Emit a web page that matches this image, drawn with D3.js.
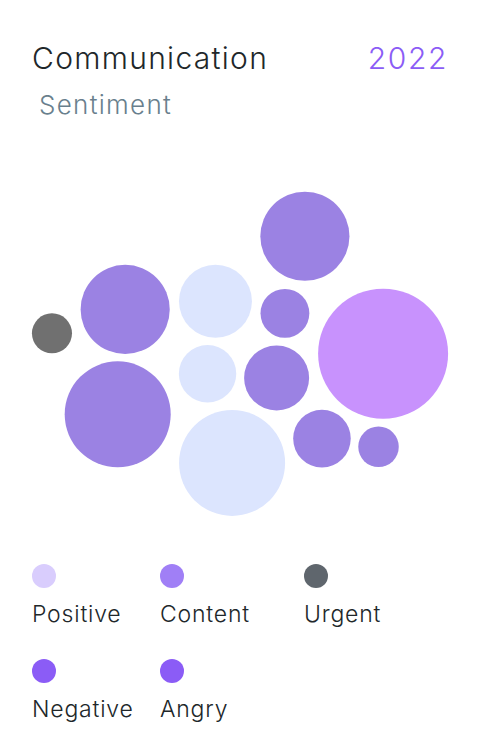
<!DOCTYPE html>
<html>
<head>
<meta charset="utf-8">
<script src="https://cdn.jsdelivr.net/npm/d3@7"></script>
<style>
  html, body { margin: 0; padding: 0; background: #ffffff; }
  svg { display: block; }
  text { font-family: Inter, "Noto Sans", sans-serif; font-weight: 300; }
</style>
</head>
<body>
<svg id="chart" width="480" height="756"></svg>
<script>
// ---- data ----
const title = "Communication";
const subtitle = "Sentiment";
const year = "2022";

const legendCategories = ["Positive", "Content", "Urgent", "Negative", "Angry"];
const legendColors = ["#d9cdfd", "#a07ff6", "#5f666d", "#8b5cf6", "#8b5cf6"];

// bubbles: category, position (0-100 layout units), value (size)
const bubbleCategory = ["Urgent", "Content", "Content", "Positive", "Positive", "Positive",
                        "Content", "Content", "Content", "Negative", "Content", "Content"];
const bubbleX = [4.8, 22.4, 20.6, 44.1, 42.2, 48.1, 65.6, 60.8, 58.8, 84.4, 69.7, 83.3];
const bubbleY = [43.7, 36.4, 68.4, 33.9, 56.0, 83.2, 14.1, 37.6, 57.3, 49.9, 75.8, 78.3];
const bubbleValue = [9.5, 47, 66.5, 31.5, 19.5, 66.5, 47, 14.1, 25, 100, 19.6, 9.7];

const bubbleFill = { Positive: "#dce5fe", Content: "#9b82e3", Urgent: "#707070", Negative: "#c892fd", Angry: "#8b5cf6" };

// ---- drawing ----
const svg = d3.select("#chart");

svg.append("text").attr("x", 32).attr("y", 69)
  .attr("font-size", 30).attr("fill", "#21272a").attr("letter-spacing", 1.3).text(title);
svg.append("text").attr("x", 448).attr("y", 69).attr("text-anchor", "end")
  .attr("font-size", 30).attr("fill", "#8b5cf6").attr("letter-spacing", 1.6).text(year);
svg.append("text").attr("x", 39).attr("y", 114)
  .attr("font-size", 26).attr("fill", "#697f8d").attr("letter-spacing", 1.3).text(subtitle);

const x = d3.scaleLinear().domain([0, 100]).range([32, 448]);
const y = d3.scaleLinear().domain([0, 100]).range([190, 518]);
const r = d3.scaleSqrt().domain([0, 100]).range([0, 65]);

const bubbles = bubbleX.map((v, i) => ({ x: v, y: bubbleY[i], value: bubbleValue[i], cat: bubbleCategory[i] }));

svg.append("g").selectAll("circle").data(bubbles).join("circle")
  .attr("cx", d => x(d.x)).attr("cy", d => y(d.y)).attr("r", d => r(d.value))
  .attr("fill", d => bubbleFill[d.cat]);

// legend
const colX = [44, 172, 316];
const rowY = [576, 671];
const legend = svg.append("g").selectAll("g").data(legendCategories).join("g")
  .attr("transform", (d, i) => `translate(${colX[i % 3]},${rowY[Math.floor(i / 3)]})`);
legend.append("circle").attr("r", 12).attr("fill", (d, i) => legendColors[i]);
legend.append("text").attr("x", -12).attr("y", 46)
  .attr("font-size", 23).attr("fill", "#21272a").attr("font-weight", 350).attr("letter-spacing", 0.8).text(d => d);
</script>
</body>
</html>
